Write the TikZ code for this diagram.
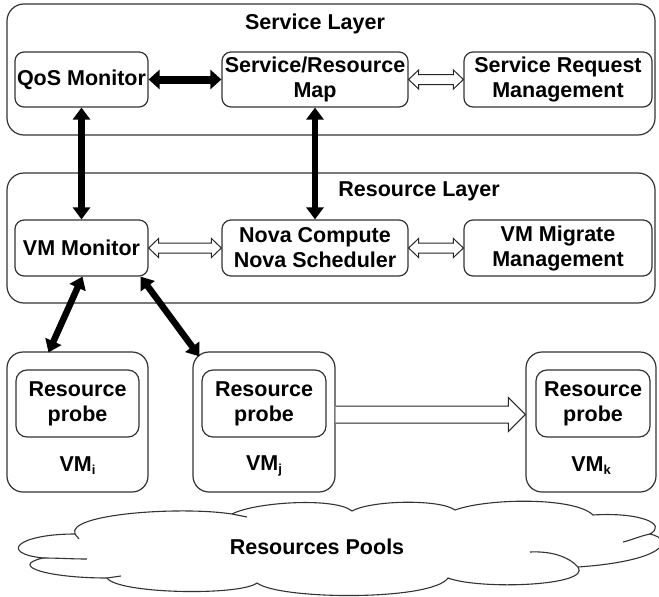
\documentclass[tikz,border=0pt]{standalone}
\usepackage{fontspec}
\setmainfont{Liberation Sans}
\usetikzlibrary{arrows.meta,calc}

% small lowered index after "VM"
\newcommand\subidx[1]{\raisebox{-3pt}{\fontsize{13}{13}\selectfont #1}}

% outlined two-headed arrow between two nodes placed side by side
\newcommand\hollowtwin[2]{%
  \draw[hollow] let \p1=(#1.east), \p2=(#2.west) in
    (\x1,\y1) -- (\x1+10pt,\y1+9.5pt) -- (\x1+10pt,\y1+5pt) -- (\x2-10pt,\y1+5pt)
    -- (\x2-10pt,\y1+9.5pt) -- (\x2,\y1) -- (\x2-10pt,\y1-9.5pt) -- (\x2-10pt,\y1-5pt)
    -- (\x1+10pt,\y1-5pt) -- (\x1+10pt,\y1-9.5pt) -- cycle;}

\begin{document}
\begin{tikzpicture}[x=1pt,y=-1pt,
  font=\bfseries\fontsize{21.5}{25}\selectfont,
  layerbox/.style={draw=black!80, line width=1.2pt, rounded corners=17pt, inner sep=0pt},
  unit/.style={draw=black!80, line width=1.2pt, rounded corners=9pt, align=center,
    inner sep=0pt, minimum height=55pt},
  vmbox/.style={draw=black!80, line width=1.2pt, rounded corners=16pt, inner sep=0pt,
    minimum height=140pt},
  probe/.style={draw=black!80, line width=1.2pt, rounded corners=11pt, align=center,
    inner sep=0pt, minimum height=67pt},
  hollow/.style={draw=black!85, line width=1pt, fill=white, line join=miter},
  bigarrow/.style={line width=6.5pt, draw=black,
    arrows={Triangle[length=12pt,width=17pt]-Triangle[length=12pt,width=17pt]}},
  widearrow/.style={line width=8pt, draw=black,
    arrows={Triangle[length=11pt,width=19pt]-Triangle[length=11pt,width=19pt]}},
]
\useasboundingbox (0,0) rectangle (659,597);

% layer frames
\node[layerbox, minimum width=648pt, minimum height=131pt] (svc) at (331,69.5) {};
\node[layerbox, minimum width=648pt, minimum height=130pt] (res) at (331,238) {};
\node (svctitle) at (315,24) {Service Layer};
\node (restitle) at (419,191) {Resource Layer};

% service layer components
\node[unit, minimum width=133pt] (qos) at (81.5,79.5) {QoS Monitor};
\node[unit, minimum width=186pt] (map) at (315,79.5) {Service/Resource\\Map};
\node[unit, minimum width=188pt] (srm) at (558,79.5) {Service Request\\Management};

% resource layer components
\node[unit, minimum width=133pt, minimum height=56pt] (vmmon) at (81.5,248) {VM Monitor};
\node[unit, minimum width=186pt, minimum height=56pt] (nova) at (315,248) {Nova Compute\\Nova Scheduler};
\node[unit, minimum width=188pt, minimum height=56pt] (migr) at (558,248) {VM Migrate\\Management};

% virtual machines with their probes
\node[vmbox, minimum width=141pt] (vmi) at (77.5,422) {};
\node[vmbox, minimum width=142pt] (vmj) at (264,422) {};
\node[vmbox, minimum width=130pt] (vmk) at (591,422) {};
\node[probe, minimum width=123pt] (pri) at (77.5,403.5) {Resource\\probe};
\node[probe, minimum width=124pt] (prj) at (264,403.5) {Resource\\probe};
\node[probe, minimum width=114pt] (prk) at (593,403.5) {Resource\\probe};
\node (li) at (77.5,466) {VM\subidx{i}};
\node (lj) at (264,466) {VM\subidx{j}};
\node (lk) at (591,466) {VM\subidx{k}};

% resource pool cloud
\begin{scope}[draw=black!80, line width=1.1pt]
\draw[fill=white]
  (75,534) .. controls (66,514) and (180,506) .. (232,514)
  .. controls (255,502) and (335,497) .. (352,511)
  .. controls (372,500) and (440,499) .. (455,510)
  .. controls (488,498) and (575,497) .. (593,515)
  .. controls (640,512) and (668,524) .. (650,534)
  .. controls (676,540) and (664,561) .. (578,567)
  .. controls (592,586) and (480,590) .. (448,578)
  .. controls (432,601) and (280,600) .. (257,583)
  .. controls (240,596) and (118,594) .. (107,578)
  .. controls (48,578) and (8,566) .. (43,558)
  .. controls (-2,553) and (18,534) .. (75,534) -- cycle;
\draw (43,558) .. controls (58,558) and (72,559) .. (87,559);
\draw (107,578) -- (121,576);
\draw (232,514) -- (247,517);
\draw (75,534) -- (79,539);
\draw (578,567) .. controls (568,556) and (550,551) .. (530,552);
\draw (650,534) .. controls (640,536) and (632,540) .. (623,542);
\end{scope}
\node (pool) at (317,547) {Resources Pools};

% control and monitoring links
\draw[widearrow] (qos.east) -- (map.west);
\draw[bigarrow] (qos.south) -- (vmmon.north);
\draw[bigarrow] (map.south) -- (nova.north);
\draw[bigarrow] ($(vmmon.south)+(1,0)$) -- ($(vmi.north)+(-29,1)$);
\draw[bigarrow] ($(vmmon.south east)+(-8,0)$) -- ($(vmj.north west)+(7,5)$);

% information exchange links
\hollowtwin{map}{srm}
\hollowtwin{vmmon}{nova}
\hollowtwin{nova}{migr}

% migration from VMj to VMk
\draw[hollow] let \p1=($(vmj.east)+(0,-7.5)$), \p2=($(vmk.west)+(0,-7.5)$) in
  (\x1,\y1+8.5pt) -- (\x2-17pt,\y1+8.5pt) -- (\x2-17pt,\y1+17pt) -- (\x2,\y1)
  -- (\x2-17pt,\y1-17pt) -- (\x2-17pt,\y1-8.5pt) -- (\x1,\y1-8.5pt);
\end{tikzpicture}
\end{document}
